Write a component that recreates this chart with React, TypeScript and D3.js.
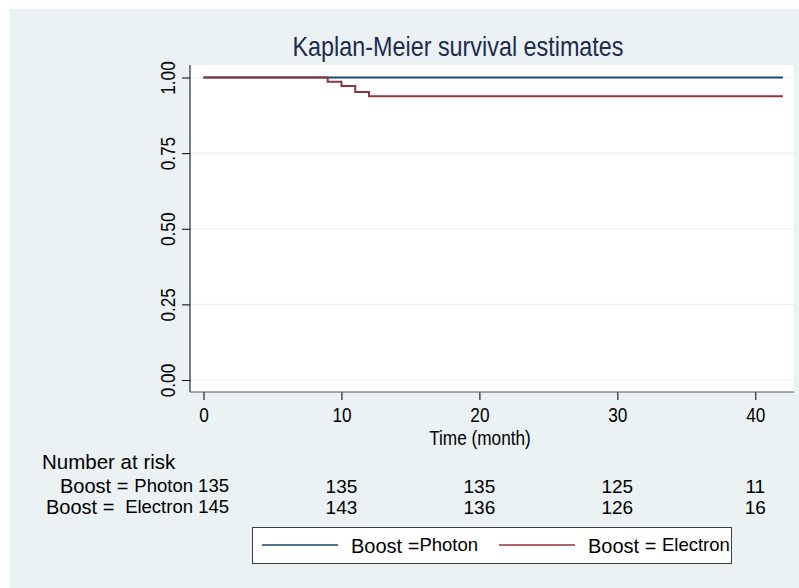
import React, { useEffect, useRef } from "react";
import * as d3 from "d3";

// Kaplan-Meier steps: [time (month), survival]
const photonCurve: [number, number][] = [
  [0, 1],
  [42, 1],
];
const electronCurve: [number, number][] = [
  [0, 1],
  [9, 0.986],
  [10, 0.972],
  [11, 0.952],
  [12, 0.938],
  [42, 0.938],
];

const xTicks = [0, 10, 20, 30, 40];
const yTicks = [0, 0.25, 0.5, 0.75, 1];

// number at risk table
const riskTimes = [0, 10, 20, 30, 40];
const photonRisk = [135, 135, 135, 125, 11];
const electronRisk = [145, 143, 136, 126, 16];

const groupNames = ["Photon", "Electron"];

const W = 799;
const H = 588;
const FONT = "'Liberation Sans', Arial, Helvetica, sans-serif";
const NAVY = "#1a476f";
const MAROON = "#90353b";
const NARROW = 0.82; // stata's axis / title font is a bit condensed

export default function App() {
  const ref = useRef<SVGSVGElement | null>(null);

  useEffect(() => {
    const svg = d3.select(ref.current);
    svg.selectAll("*").remove();
    svg.attr("width", W).attr("height", H).style("font-family", FONT);

    const plot = { left: 190, right: 794, top: 65, bottom: 392 };

    const x = d3.scaleLinear().domain([0, 40]).range([203.5, 755.3]);
    const y = d3.scaleLinear().domain([0, 1]).range([380, 77.5]);

    // background
    svg.append("rect")
      .attr("x", 10).attr("y", 9)
      .attr("width", W - 10).attr("height", H - 9)
      .attr("fill", "#eaf2f3");

    svg.append("rect")
      .attr("x", plot.left).attr("y", plot.top)
      .attr("width", plot.right - plot.left)
      .attr("height", plot.bottom - plot.top)
      .attr("fill", "#ffffff");

    // grid
    svg.append("g")
      .selectAll("line")
      .data(yTicks)
      .enter().append("line")
      .attr("x1", plot.left).attr("x2", plot.right)
      .attr("y1", d => y(d)).attr("y2", d => y(d))
      .attr("stroke", "#eaf2f3")
      .attr("stroke-width", 1.2);

    // curves
    const line = d3.line<[number, number]>()
      .x(d => x(d[0]))
      .y(d => y(d[1]))
      .curve(d3.curveStepAfter);

    svg.append("path")
      .attr("d", line(photonCurve))
      .attr("fill", "none")
      .attr("stroke", NAVY)
      .attr("stroke-width", 2);

    svg.append("path")
      .attr("d", line(electronCurve))
      .attr("fill", "none")
      .attr("stroke", MAROON)
      .attr("stroke-width", 2);

    // y axis
    const yAxis = svg.append("g")
      .attr("transform", `translate(${plot.left},0)`)
      .call(d3.axisLeft(y).tickValues(yTicks).tickFormat(d3.format(".2f")).tickSize(8));
    yAxis.select(".domain").remove();
    yAxis.selectAll(".tick line").attr("stroke", "#000");
    yAxis.selectAll(".tick text")
      .attr("x", null).attr("dy", null)
      .attr("transform", `translate(-15,0) rotate(-90) scale(${NARROW},1)`)
      .attr("text-anchor", "middle")
      .style("font-size", "21px")
      .style("font-family", FONT)
      .attr("fill", "#000");
    svg.append("line")
      .attr("x1", plot.left).attr("x2", plot.left)
      .attr("y1", plot.top).attr("y2", plot.bottom)
      .attr("stroke", "#000");

    // x axis
    const xAxis = svg.append("g")
      .attr("transform", `translate(0,${plot.bottom})`)
      .call(d3.axisBottom(x).tickValues(xTicks).tickSize(8));
    xAxis.select(".domain").remove();
    xAxis.selectAll(".tick line").attr("stroke", "#000");
    xAxis.selectAll(".tick text")
      .attr("y", null).attr("dy", null)
      .attr("transform", `translate(0,30) scale(${NARROW},1)`)
      .style("font-size", "21px")
      .style("font-family", FONT)
      .attr("fill", "#000");
    svg.append("line")
      .attr("x1", plot.left).attr("x2", plot.right)
      .attr("y1", plot.bottom).attr("y2", plot.bottom)
      .attr("stroke", "#555");

    svg.append("text")
      .attr("transform", `translate(480,445) scale(${NARROW},1)`)
      .attr("text-anchor", "middle")
      .style("font-size", "21px")
      .text("Time (month)");

    // title
    svg.append("text")
      .attr("transform", `translate(458,56) scale(${NARROW},1)`)
      .attr("text-anchor", "middle")
      .attr("fill", "#1e2b52")
      .style("font-size", "28.5px")
      .text("Kaplan-Meier survival estimates");

    // number at risk
    const risk = svg.append("g").style("font-size", "19px");
    risk.append("text")
      .attr("x", 42).attr("y", 469)
      .style("font-size", "20.5px")
      .text("Number at risk");

    const rows = [
      { name: groupNames[0], vals: photonRisk, y: 493, start: 60 },
      { name: groupNames[1], vals: electronRisk, y: 514, start: 46 },
    ];
    rows.forEach(r => {
      risk.append("text").attr("x", r.start).attr("y", r.y)
        .style("font-size", "20px").text("Boost =");
      risk.append("text")
        .attr("x", 229).attr("y", r.y - 1)
        .attr("text-anchor", "end")
        .style("font-size", "18.5px")
        .text(`${r.name} ${r.vals[0]}`);
      risk.selectAll(null)
        .data(riskTimes.slice(1).map((t, i) => ({ t, v: r.vals[i + 1] })))
        .enter().append("text")
        .attr("x", d => x(d.t))
        .attr("y", r.y)
        .attr("text-anchor", "middle")
        .text(d => d.v);
    });

    // legend
    const legend = svg.append("g");
    legend.append("rect")
      .attr("x", 252.5).attr("y", 527.5)
      .attr("width", 479).attr("height", 36)
      .attr("fill", "#fff")
      .attr("stroke", "#404040");

    const items = [
      { name: groupNames[0], color: NAVY, x0: 262, tx: 351 },
      { name: groupNames[1], color: MAROON, x0: 499, tx: 588 },
    ];
    items.forEach(it => {
      legend.append("line")
        .attr("x1", it.x0).attr("x2", it.x0 + 76)
        .attr("y1", 545).attr("y2", 545)
        .attr("stroke", it.color)
        .attr("stroke-width", 1.5);
      const t = legend.append("text")
        .attr("x", it.tx).attr("y", 553)
        .style("font-size", "20px");
      t.append("tspan").text(it.name === "Photon" ? "Boost =" : "Boost = ");
      t.append("tspan").attr("dy", -2).style("font-size", "18.5px").text(it.name);
    });
  }, []);

  return <svg ref={ref} style={{ display: "block", position: "absolute", left: 0, top: 0 }} />;
}
